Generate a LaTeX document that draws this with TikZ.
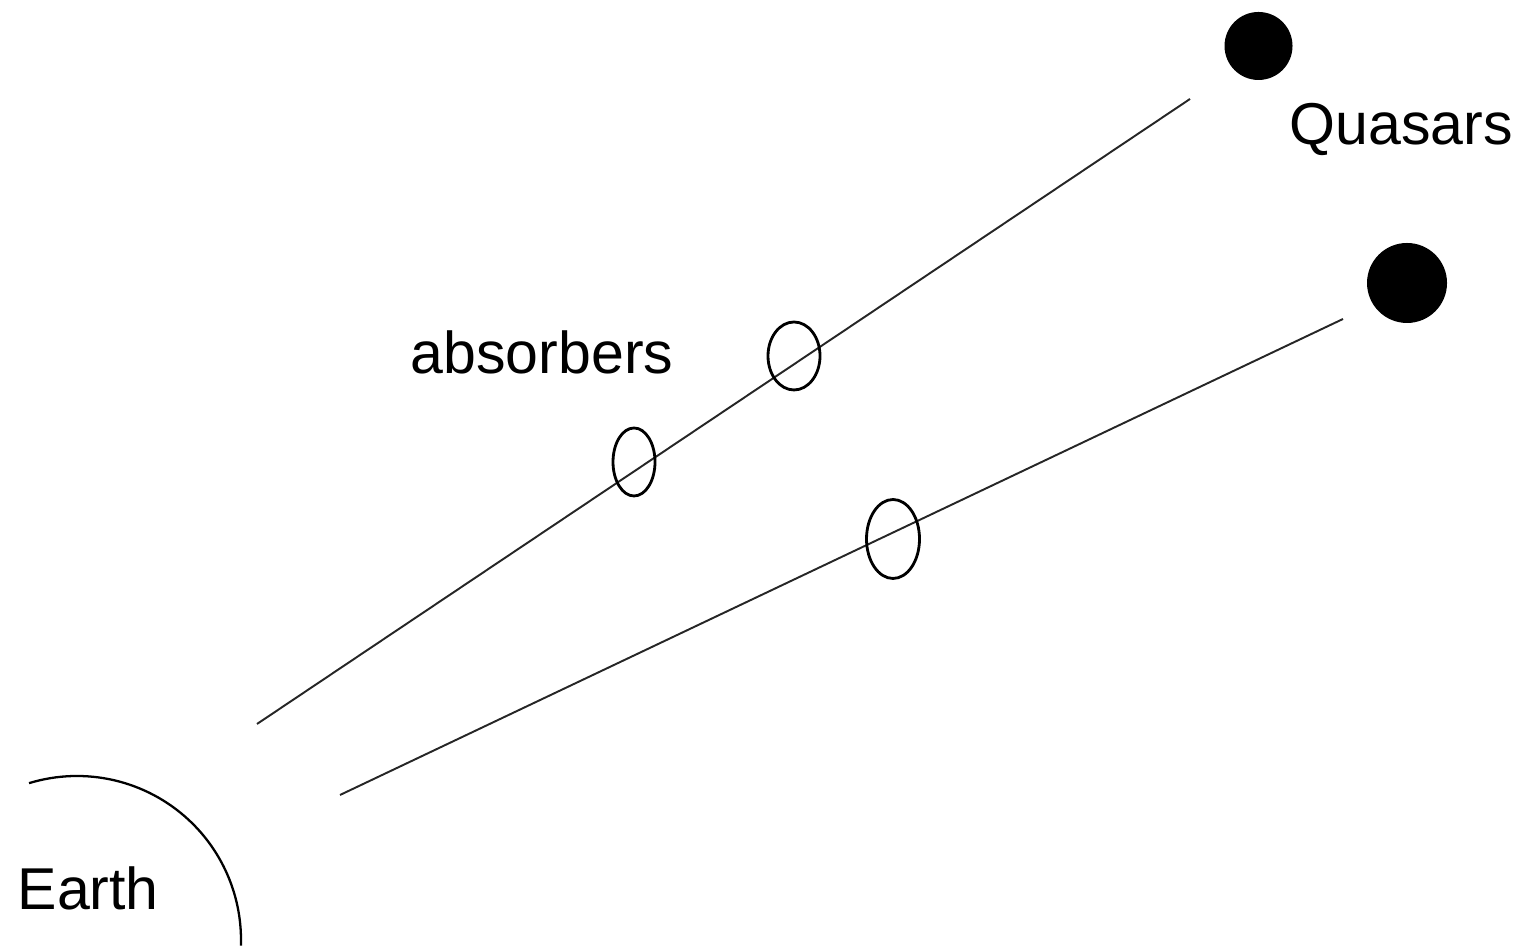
\documentclass[tikz,border=0pt]{standalone}
\usepackage{fontspec}
\setmainfont{Liberation Sans}
\usepackage{tikz}
\usetikzlibrary{shapes.geometric, positioning, calc}
\tikzset{
  quasar/.style={circle, fill=black, inner sep=0pt, minimum size=#1},
  quasar/.default=0.7cm,
  absorber/.style={ellipse, draw=black, line width=0.8pt, inner sep=0pt,
              minimum width=#1, minimum height=0.68cm},
  absorber/.default=0.5cm,
  sightline/.style={line width=0.55pt, color=black!85},
  label/.style={font=\fontsize{16.8}{20}\selectfont, inner sep=0pt},
}

\begin{document}
\begin{tikzpicture}
  \useasboundingbox (0,0) rectangle (15.22,9.51);

  % quasars
  \node[quasar=0.68cm] (q1) at (12.585,9.05) {};
  \node[quasar=0.80cm] (q2) at (14.07,6.68) {};
  \node[label, anchor=base west] (qlabel) at (12.89,8.06) {Quasars};

  % lines of sight
  \coordinate (s1) at (2.57,2.27);
  \coordinate (e1) at (11.90,8.52);
  \coordinate (s2) at (3.40,1.56);
  \coordinate (e2) at (13.43,6.32);
  \draw[sightline] (s1) -- (e1);
  \draw[sightline] (s2) -- (e2);

  % absorbers
  \node[absorber=0.52cm] (a1) at (7.94,5.95) {};
  \node[absorber=0.42cm] (a2) at (6.34,4.89) {};
  \node[absorber=0.53cm, minimum height=0.79cm] (a3) at (8.93,4.12) {};
  \node[label, anchor=base west] (alabel) at (4.10,5.77) {absorbers};

  % earth
  \coordinate (earth) at (0.77,0.11);
  \draw[line width=0.65pt] ([shift={(107:1.64)}]earth) arc[start angle=107, end angle=-2, radius=1.64];
  \node[label, anchor=base west] (elabel) at (0.17,0.41) {Earth};
\end{tikzpicture}
\end{document}
